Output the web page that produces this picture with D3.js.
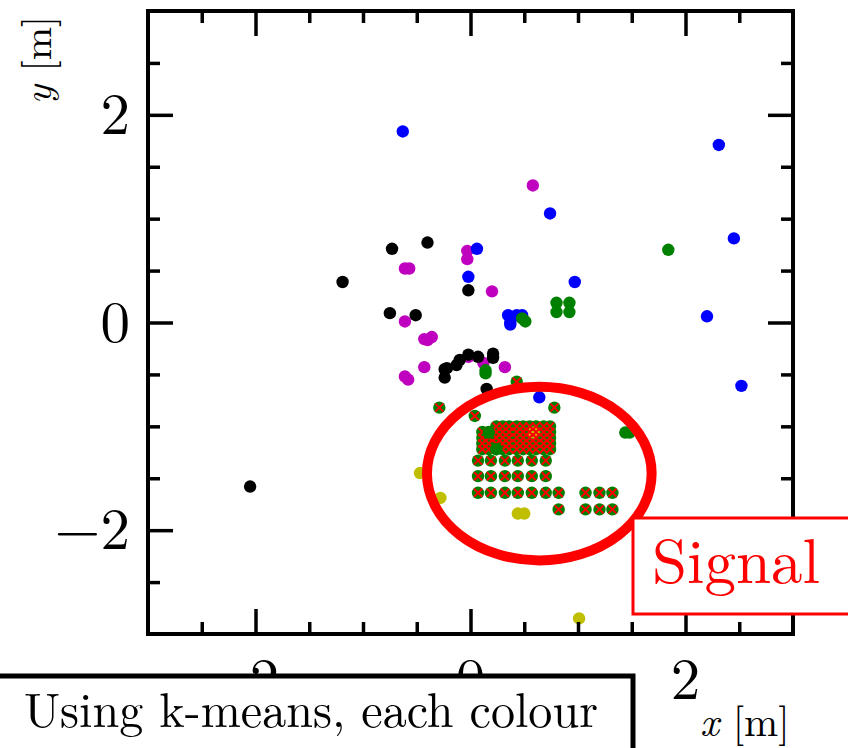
<!DOCTYPE html>
<html><head><meta charset="utf-8">
<script src="https://cdn.jsdelivr.net/npm/d3@7"></script>
<style>html,body{margin:0;padding:0;background:#fff;}svg{display:block;}</style>
</head><body>
<svg id="c" width="848" height="748"></svg>
<script>
// ---- data (metres) ----
const blueCluster = [[-0.63,1.84],[0.74,1.05],[2.31,1.71],[2.45,0.81],[0.06,0.71],[-0.02,0.44],[0.97,0.39],[2.20,0.06],[2.52,-0.61],[0.64,-0.72],[0.35,0.07],[0.37,0.0],[0.37,-0.02],[0.43,0.07],[0.48,0.07]];
const magentaCluster = [[0.58,1.32],[-0.03,0.69],[-0.03,0.61],[-0.61,0.52],[-0.57,0.52],[0.20,0.30],[-0.61,0.01],[-0.43,-0.16],[-0.36,-0.14],[-0.40,-0.17],[-0.43,-0.43],[-0.61,-0.52],[-0.58,-0.55],[-0.02,-0.33],[0.12,-0.39],[0.32,-0.43]];
const blackCluster = [[-0.73,0.71],[-0.40,0.77],[-1.19,0.39],[-0.02,0.31],[-0.75,0.09],[-0.51,0.07],[-2.05,-1.58],[-0.24,-0.45],[-0.24,-0.53],[-0.22,-0.44],[-0.13,-0.41],[-0.10,-0.36],[-0.02,-0.31],[0.07,-0.33],[0.21,-0.30],[0.21,-0.34],[0.15,-0.64]];
const greenCluster = [[1.84,0.70],[0.80,0.19],[0.92,0.19],[0.80,0.10],[0.92,0.10],[0.48,0.04],[0.51,0.01],[0.14,-0.46],[0.14,-0.49],[1.44,-1.06],[1.48,-1.06],[0.17,-1.06],[0.24,-1.22]];
const yellowCluster = [[-0.47,-1.45],[-0.28,-1.69],[0.44,-1.84],[0.50,-1.84],[1.01,-2.85],[0.59,-1.06]];
const signalPoints = [
  [0.43,-0.57],[-0.29,-0.82],[0.04,-0.90],[0.78,-0.82],
  [0.24,-1.00],[0.30,-1.00],[0.36,-1.00],[0.43,-1.00],[0.49,-1.00],[0.55,-1.00],[0.61,-1.00],[0.68,-1.00],[0.74,-1.00],
  [0.11,-1.055],[0.17,-1.055],[0.24,-1.055],[0.30,-1.055],[0.36,-1.055],[0.43,-1.055],[0.49,-1.055],[0.55,-1.055],[0.61,-1.055],[0.68,-1.055],[0.74,-1.055],
  [0.11,-1.11],[0.17,-1.11],[0.24,-1.11],[0.30,-1.11],[0.36,-1.11],[0.43,-1.11],[0.49,-1.11],[0.55,-1.11],[0.61,-1.11],[0.68,-1.11],[0.74,-1.11],
  [0.11,-1.165],[0.17,-1.165],[0.24,-1.165],[0.30,-1.165],[0.36,-1.165],[0.43,-1.165],[0.49,-1.165],[0.55,-1.165],[0.61,-1.165],[0.68,-1.165],[0.74,-1.165],
  [0.11,-1.22],[0.17,-1.22],[0.24,-1.22],[0.30,-1.22],[0.36,-1.22],[0.43,-1.22],[0.49,-1.22],[0.55,-1.22],[0.61,-1.22],[0.68,-1.22],[0.74,-1.22],
  [0.07,-1.33],[0.19,-1.33],[0.32,-1.33],[0.44,-1.33],[0.57,-1.33],[0.70,-1.33],
  [0.07,-1.48],[0.19,-1.48],[0.32,-1.48],[0.44,-1.48],[0.57,-1.48],[0.70,-1.48],
  [0.07,-1.64],[0.19,-1.64],[0.32,-1.64],[0.44,-1.64],[0.57,-1.64],[0.70,-1.64],[0.82,-1.64],[1.07,-1.64],[1.20,-1.64],[1.32,-1.64],
  [0.82,-1.80],[1.07,-1.80],[1.20,-1.80],[1.32,-1.80]
];
const signalEllipse = {cx:0.64, cy:-1.455, rx:1.045, ry:0.836};
const majorTicks = [-2, 0, 2];
const minorTicks = [-2.5,-1.5,-1,-0.5,0.5,1,1.5,2.5];
const tickLabels = ["\u22122","0","2"];
const xDomain = [-3, 3], yDomain = [-3, 3];

// ---- layout ----
const L = 148, R = 793, T = 11, B = 634;
const FONT = '"Latin Modern Roman", "Liberation Serif", serif';
const svg = d3.select("#c");
const x = d3.scaleLinear().domain(xDomain).range([L, R]);
const y = d3.scaleLinear().domain(yDomain).range([B, T]);

const g = svg.append("g");
g.selectAll("circle.sig").data(signalPoints).join("circle")
  .attr("cx", d => x(d[0])).attr("cy", d => y(d[1])).attr("r", 6.2).attr("fill", "#008000");
function cluster(data, color) {
  g.append("g").selectAll("circle").data(data).join("circle")
    .attr("cx", d => x(d[0])).attr("cy", d => y(d[1])).attr("r", 6.2).attr("fill", color);
}
cluster(magentaCluster, "#bf00bf");
cluster(blackCluster, "#000000");
cluster(blueCluster, "#0000ff");
cluster(yellowCluster, "#bfbf00");
const cs = 4;
g.append("g").selectAll("path").data(signalPoints).join("path")
  .attr("d", d => { const px = x(d[0]), py = y(d[1]);
    return `M${px-cs},${py-cs}L${px+cs},${py+cs}M${px-cs},${py+cs}L${px+cs},${py-cs}`; })
  .attr("stroke", "#ff0000").attr("stroke-width", 2).attr("fill", "none");
cluster(greenCluster, "#008000");

svg.append("ellipse")
  .attr("cx", x(signalEllipse.cx)).attr("cy", y(signalEllipse.cy))
  .attr("rx", x(signalEllipse.rx) - x(0)).attr("ry", y(0) - y(signalEllipse.ry))
  .attr("fill", "none").attr("stroke", "#ff0000").attr("stroke-width", 10);

function axes(gen, tr, vals, size) {
  svg.append("g").attr("transform", tr)
    .call(gen.tickValues(vals).tickSize(size).tickFormat(""))
    .call(s => s.select(".domain").remove())
    .call(s => s.selectAll("line").attr("stroke", "#000").attr("stroke-width", 3.5));
}
axes(d3.axisBottom(x), `translate(0,${B})`, majorTicks, -25);
axes(d3.axisBottom(x), `translate(0,${B})`, minorTicks, -12);
axes(d3.axisTop(x), `translate(0,${T})`, majorTicks, -25);
axes(d3.axisTop(x), `translate(0,${T})`, minorTicks, -12);
axes(d3.axisLeft(y), `translate(${L},0)`, majorTicks, -25);
axes(d3.axisLeft(y), `translate(${L},0)`, minorTicks, -12);
axes(d3.axisRight(y), `translate(${R},0)`, majorTicks, -25);
axes(d3.axisRight(y), `translate(${R},0)`, minorTicks, -12);
svg.append("rect").attr("x", L).attr("y", T).attr("width", R - L).attr("height", B - T)
  .attr("fill", "none").attr("stroke", "#000").attr("stroke-width", 4);

// tick labels
svg.append("g").selectAll("text").data(majorTicks).join("text")
  .attr("x", L - 18).attr("y", d => y(d) + 19).attr("text-anchor", "end")
  .style("font-family", FONT).attr("font-size", 59).text((d, i) => tickLabels[i]);
svg.append("g").selectAll("text").data(majorTicks).join("text")
  .attr("x", d => x(d) - (d < 0 ? 14 : 0)).attr("y", 699).attr("text-anchor", "middle")
  .style("font-family", FONT).attr("font-size", 59).text((d, i) => tickLabels[i]);

// axis titles
const yl = svg.append("text").attr("transform", "translate(51,60) rotate(-90)")
  .attr("text-anchor", "middle").style("font-family", FONT).attr("font-size", 40);
yl.append("tspan").attr("font-style", "italic").text("y");
yl.append("tspan").text(" [m]");
const xl = svg.append("text").attr("x", 700).attr("y", 736)
  .style("font-family", FONT).attr("font-size", 41);
xl.append("tspan").attr("font-style", "italic").text("x");
xl.append("tspan").text(" [m]");

// Signal label box
svg.append("rect").attr("x", 633).attr("y", 518).attr("width", 240).attr("height", 96)
  .attr("fill", "#fff").attr("stroke", "#ff0000").attr("stroke-width", 3);
svg.append("text").attr("x", 652).attr("y", 583).style("font-family", FONT)
  .attr("font-size", 63).attr("fill", "#ff0000").text("Signal");

// caption box
svg.append("rect").attr("x", -10).attr("y", 676).attr("width", 643).attr("height", 100)
  .attr("fill", "#fff").attr("stroke", "#000").attr("stroke-width", 5);
svg.append("text").attr("x", 24).attr("y", 727).style("font-family", FONT)
  .attr("font-size", 48).attr("textLength", 574).attr("lengthAdjust", "spacingAndGlyphs")
  .text("Using k-means, each colour");
</script>
</body></html>
